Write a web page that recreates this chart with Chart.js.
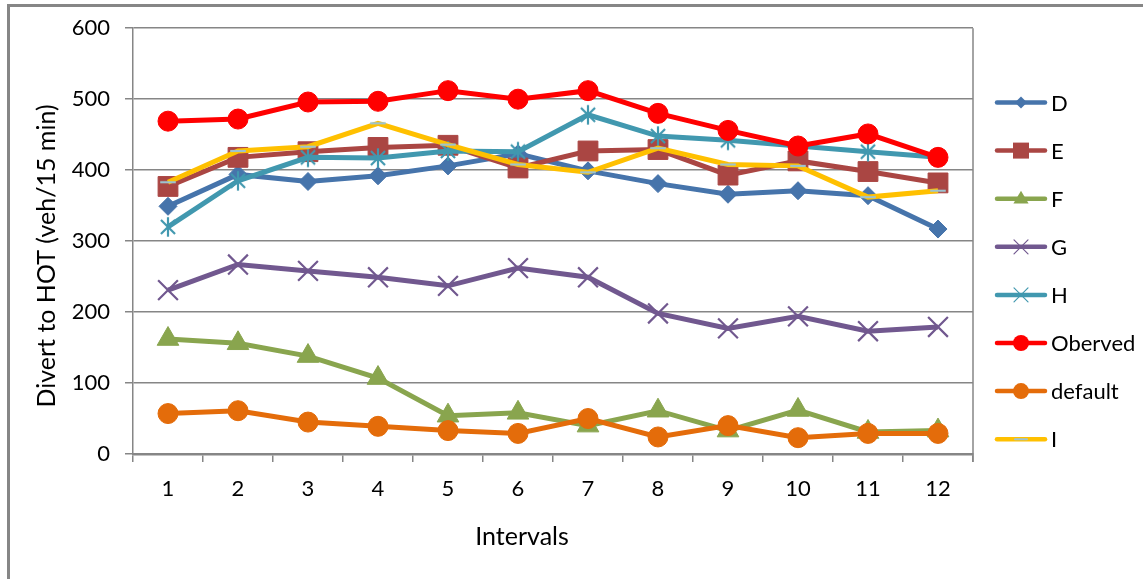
<!DOCTYPE html>
<html><head><meta charset="utf-8">
<script src="https://cdn.jsdelivr.net/npm/chart.js@4.4.1/dist/chart.umd.min.js"></script>
<style>html,body{margin:0;padding:0;background:#fff}canvas{display:block}</style>
</head><body>
<canvas id="c" width="1143" height="579"></canvas>
<script>
const categories = ['1','2','3','4','5','6','7','8','9','10','11','12'];
const yTickValues = [0,100,200,300,400,500,600];
const seriesNames = ['D','E','F','G','H','Oberved','default','I'];
const dVals   = [349,394,384,392,406,423,399,381,366,371,364,317];
const eVals   = [377,418,426,432,435,403,427,429,393,413,398,382];
const fVals   = [162,156,138,107,54,58,40,61,33,62,31,33];
const gVals   = [231,267,258,249,237,262,249,198,177,194,173,179];
const hVals   = [320,385,418,417,427,426,478,448,442,434,426,418];
const obsVals = [469,472,496,497,512,500,512,480,456,434,451,418];
const defVals = [57,61,45,39,33,29,50,24,40,23,29,29];
const iVals   = [383,427,433,466,436,408,397,431,408,406,362,371];
const xTitle = 'Intervals';
const yTitle = 'Divert to HOT (veh/15 min)';

const FONT = 'Lato';
const GRID = '#868686';

function markerCanvas(kind, size, color, lw){
  const c = document.createElement('canvas');
  c.width = size; c.height = size;
  const x = c.getContext('2d');
  const m = size/2, r = size/2 - lw;
  x.strokeStyle = color; x.lineWidth = lw; x.lineCap = 'butt';
  x.beginPath();
  if (kind === 'asterisk'){
    const d = r*0.72;
    x.moveTo(m-d,m-d); x.lineTo(m+d,m+d);
    x.moveTo(m+d,m-d); x.lineTo(m-d,m+d);
    x.moveTo(m,m-r); x.lineTo(m,m+r);
  } else if (kind === 'dash'){
    x.moveTo(m-r,m); x.lineTo(m+r,m);
  }
  x.stroke();
  return c;
}

const styles = [
  {color:'#4674AB', point:'rectRot', r:9},
  {color:'#AA4643', point:'rect', r:14},
  {color:'#89A54E', point:'triangle', r:12.5},
  {color:'#71588F', point:'crossRot', r:14, bw:2.2},
  {color:'#4198AF', point:'asterisk', r:10},
  {color:'#FF0000', point:'circle', r:10},
  {color:'#E46C0A', point:'circle', r:10},
  {color:'#FFC000', point:'dash', r:8, mcolor:'#9DC3CF'}
];
const valueLists = [dVals,eVals,fVals,gVals,hVals,obsVals,defVals,iVals];

function drawLegendMarker(ctx, st, x, y){
  ctx.save();
  ctx.fillStyle = st.color; ctx.strokeStyle = st.color;
  ctx.beginPath();
  if (st.point === 'rectRot'){
    const r = 6;
    ctx.moveTo(x, y-r); ctx.lineTo(x+r, y); ctx.lineTo(x, y+r); ctx.lineTo(x-r, y); ctx.closePath(); ctx.fill();
  } else if (st.point === 'rect'){
    const s = 8; ctx.rect(x-s, y-s, 2*s, 2*s); ctx.fill();
  } else if (st.point === 'triangle'){
    const r = 8;
    ctx.moveTo(x, y-r); ctx.lineTo(x+r*0.95, y+r*0.6); ctx.lineTo(x-r*0.95, y+r*0.6); ctx.closePath(); ctx.fill();
  } else if (st.point === 'circle'){
    ctx.arc(x, y, 8, 0, Math.PI*2); ctx.fill();
  } else if (st.point === 'crossRot' || st.point === 'asterisk'){
    const d = 7; ctx.lineWidth = 1.2;
    ctx.moveTo(x-d,y-d); ctx.lineTo(x+d,y+d); ctx.moveTo(x+d,y-d); ctx.lineTo(x-d,y+d); ctx.stroke();
  } else if (st.point === 'dash'){
    ctx.strokeStyle = st.mcolor; ctx.lineWidth = 2;
    ctx.moveTo(x-6,y); ctx.lineTo(x+6,y); ctx.stroke();
  }
  ctx.restore();
}

const decor = {
  id:'decor',
  beforeDraw(chart){
    const ctx = chart.ctx;
    ctx.save();
    ctx.fillStyle = '#fff'; ctx.fillRect(0,0,chart.width,chart.height);
    ctx.strokeStyle = GRID; ctx.lineWidth = 3;
    ctx.beginPath();
    ctx.moveTo(8.5, chart.height); ctx.lineTo(8.5, 5.5); ctx.lineTo(chart.width, 5.5);
    ctx.stroke();
    ctx.restore();
  },
  afterDraw(chart){
    const ctx = chart.ctx, a = chart.chartArea;
    ctx.save();
    ctx.strokeStyle = GRID; ctx.lineWidth = 1.5;
    ctx.beginPath(); ctx.moveTo(a.right, a.top); ctx.lineTo(a.right, a.bottom+8); ctx.stroke();
    // axis titles
    ctx.fillStyle = '#000';
    ctx.font = '25px ' + FONT;
    ctx.textAlign = 'center'; ctx.textBaseline = 'middle';
    ctx.fillText(xTitle, 522, 537);
    ctx.save(); ctx.translate(47, 256); ctx.rotate(-Math.PI/2); ctx.fillText(yTitle, 0, 0); ctx.restore();
    // legend
    ctx.font = '22px ' + FONT; ctx.textAlign = 'left';
    chart.data.datasets.forEach((ds, i) => {
      const st = styles[i];
      const y = 102.5 + i*48.1;
      ctx.strokeStyle = st.color; ctx.lineWidth = 4.5; ctx.lineCap = 'round';
      ctx.beginPath(); ctx.moveTo(997, y); ctx.lineTo(1045, y); ctx.stroke();
      drawLegendMarker(ctx, st, 1021, y);
      ctx.fillStyle = '#000';
      ctx.fillText(ds.label, 1051, y+1);
    });
    ctx.restore();
  }
};

function build(){
  const datasets = seriesNames.map((name, i) => {
    const st = styles[i];
    let ps = st.point;
    if (ps === 'asterisk') ps = markerCanvas('asterisk', 24, st.color, 2.2);
    if (ps === 'dash') ps = markerCanvas('dash', 20, st.mcolor, 2.2);
    return {
      label: name,
      data: valueLists[i],
      borderColor: st.color,
      backgroundColor: st.color,
      borderWidth: 5,
      pointStyle: ps,
      pointRadius: st.r,
      pointHoverRadius: st.r,
      pointBackgroundColor: st.color,
      pointBorderColor: st.color,
      pointBorderWidth: st.bw || 1,
      tension: 0,
      order: seriesNames.length - i,
      clip: false
    };
  });
  new Chart(document.getElementById('c'), {
    type:'line',
    data:{labels: categories, datasets},
    plugins:[decor],
    options:{
      responsive:false, animation:false,
      events: [],
      layout:{padding:{left:0, right:170, top:22, bottom:0}},
      plugins:{legend:{display:false}, tooltip:{enabled:false}},
      scales:{
        x:{
          offset:true,
          afterFit(s){ s.height = 125; },
          grid:{display:true, drawOnChartArea:false, offset:true, color:GRID, lineWidth:1.5, tickLength:8},
          border:{display:true, color:GRID, width:2.5},
          ticks:{color:'#000', font:{family:FONT, size:22}, padding:14, maxRotation:0, autoSkip:false},
          title:{display:false}
        },
        y:{
          min:0, max:600,
          afterFit(s){ s.width = 133; },
          afterBuildTicks(s){ s.ticks = yTickValues.map(v => ({value:v})); },
          grid:{color:GRID, lineWidth:1.5, tickLength:8},
          border:{display:true, color:GRID, width:1.5},
          ticks:{color:'#000', font:{family:FONT, size:22}, padding:15},
          title:{display:false}
        }
      }
    }
  });
}
(document.fonts && document.fonts.load ? Promise.all([document.fonts.load('22px Lato'), document.fonts.load('25px Lato')]) : Promise.resolve()).then(build, build);
</script>
</body></html>
